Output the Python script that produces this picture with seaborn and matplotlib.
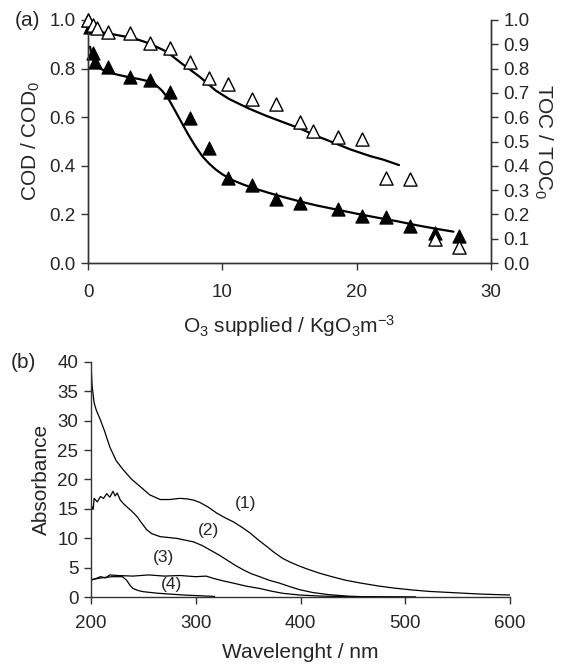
import numpy as np
import pandas as pd
import matplotlib
matplotlib.use("Agg")
import matplotlib.pyplot as plt
import seaborn as sns

# panel (a): ozone supplied vs normalised COD / TOC
cod_x = [0.0, 0.15, 0.35, 0.52, 1.5, 3.1, 4.6, 6.1, 7.6, 9.0, 10.4, 12.2,
         14.0, 15.8, 18.6, 20.4, 22.2, 24.0, 25.8, 27.6]
cod_y = [1.0, 0.97, 0.863, 0.828, 0.808, 0.764, 0.753, 0.705, 0.595, 0.472,
         0.351, 0.321, 0.263, 0.245, 0.222, 0.193, 0.19, 0.152, 0.122, 0.111]

toc_x = [0.0, 0.4, 0.65, 1.5, 3.1, 4.6, 6.1, 7.6, 9.0, 10.4, 12.2, 14.0,
         15.8, 16.75, 18.6, 20.4, 22.2, 24.0, 25.8, 27.6]
toc_y = [1.0, 0.98, 0.966, 0.952, 0.945, 0.906, 0.886, 0.826, 0.76, 0.735,
         0.674, 0.653, 0.58, 0.543, 0.517, 0.509, 0.349, 0.345, 0.098, 0.065]

# model curves
cod_fit_x = [0.15, 0.3, 0.5, 0.9, 1.5, 2.2, 3.0, 3.8, 4.5, 5.0, 5.5, 6.0, 6.5,
             7.0, 7.5, 8.0, 8.5, 9.0, 9.5, 10.0, 10.8, 11.6, 12.5, 13.5, 14.5,
             15.8, 17.0, 18.5, 20.0, 21.5, 23.0, 24.5, 26.0, 27.2]
cod_fit_y = [0.89, 0.85, 0.82, 0.80, 0.785, 0.775, 0.765, 0.757, 0.748, 0.735,
             0.71, 0.675, 0.625, 0.575, 0.525, 0.48, 0.44, 0.41, 0.385, 0.365,
             0.34, 0.322, 0.305, 0.288, 0.272, 0.253, 0.237, 0.22, 0.203,
             0.187, 0.172, 0.155, 0.14, 0.129]

toc_fit_x = [0.0, 1.5, 3.4, 4.5, 5.85, 7.0, 8.3, 9.5, 10.5, 12.0, 13.3, 14.5,
             15.8, 17.0, 18.3, 19.5, 21.0, 22.0, 23.15]
toc_fit_y = [0.959, 0.945, 0.925, 0.905, 0.87, 0.82, 0.767, 0.71, 0.675,
             0.635, 0.605, 0.58, 0.553, 0.523, 0.495, 0.468, 0.44, 0.425,
             0.403]

# panel (b): UV-vis spectra
wl_1 = [200, 201, 203, 205, 209, 213, 218, 224, 231, 239, 247, 256, 266, 275,
        285, 292, 298, 304, 312, 320, 328, 336, 344, 352, 360, 368, 375, 383,
        391, 399, 408, 418, 430, 443, 458, 475, 490, 507, 523, 539, 555, 571,
        585, 600]
abs_1 = [39.7, 36.0, 33.0, 31.8, 30.1, 28.2, 25.5, 23.2, 21.6, 20.0, 18.8,
         17.4, 16.6, 16.6, 16.8, 16.7, 16.5, 16.1, 15.3, 14.3, 13.5, 12.8,
         11.9, 10.9, 9.7, 8.6, 7.6, 6.6, 5.9, 5.3, 4.7, 4.1, 3.5, 2.9, 2.4,
         1.9, 1.55, 1.24, 1.0, 0.85, 0.7, 0.56, 0.47, 0.39]

wl_2 = [200, 202, 203, 206, 209, 212, 215, 218, 221, 223, 225, 228, 231, 234,
        239, 244, 248, 253, 258, 266, 274, 282, 290, 298, 306, 314, 322, 330,
        338, 345, 353, 361, 370, 380, 390, 399, 412, 427, 445, 460, 510]
abs_2 = [15.7, 14.9, 16.8, 16.2, 17.1, 16.8, 17.6, 17.0, 18.0, 17.2, 17.7,
         16.5, 15.9, 15.4, 14.6, 13.7, 12.7, 11.5, 10.8, 10.3, 10.15, 10.0,
         9.7, 9.4, 8.8, 8.0, 7.2, 6.3, 5.4, 4.7, 4.0, 3.5, 2.9, 2.4, 1.8, 1.3,
         0.8, 0.45, 0.2, 0.1, 0.02]

wl_3 = [200, 205, 209, 214, 218, 225, 240, 255, 270, 285, 300, 310, 317, 326,
        336, 348, 361, 372, 383, 399, 420, 450, 510]
abs_3 = [2.9, 3.2, 3.5, 3.3, 3.8, 3.7, 3.6, 3.8, 3.6, 3.7, 3.5, 3.6, 3.2,
         2.8, 2.4, 1.9, 1.5, 1.05, 0.68, 0.39, 0.2, 0.1, 0.05]

wl_4 = [200, 210, 220, 230, 234, 237, 240, 245, 250, 263, 288, 318]
abs_4 = [3.0, 3.3, 3.5, 3.5, 2.9, 2.1, 1.5, 1.15, 0.95, 0.7, 0.39, 0.15]

curve_labels = ["(1)", "(2)", "(3)", "(4)"]
label_x = [348, 312, 269, 277]
label_y = [16.0, 11.4, 6.8, 2.1]

sns.set_theme(style="ticks")
plt.rcParams["font.family"] = ["Liberation Sans", "DejaVu Sans"]
plt.rcParams["mathtext.fontset"] = "custom"
plt.rcParams["mathtext.rm"] = "Liberation Sans"
plt.rcParams["mathtext.it"] = "Liberation Sans"

TICK = 13.5
LAB = 15

fig = plt.figure(figsize=(5.63, 6.66), dpi=100)

# ---- (a) ----
ax1 = fig.add_axes([88 / 563, 1 - 263 / 666, 403 / 563, 243 / 666])
sns.lineplot(x=cod_fit_x, y=cod_fit_y, ax=ax1, color="black", lw=1.6)
sns.lineplot(x=toc_fit_x, y=toc_fit_y, ax=ax1, color="black", lw=1.6)
sns.scatterplot(x=cod_x, y=cod_y, ax=ax1, marker="^", s=90, color="black",
                edgecolor="black", linewidth=0.8, clip_on=False, zorder=4)
ax1.set_xlim(0, 30)
ax1.set_ylim(0, 1.0)
ax1.set_xticks([0, 10, 20, 30])
ax1.set_yticks(np.arange(0, 1.01, 0.2))
ax1.set_yticklabels([f"{v:.1f}" for v in np.arange(0, 1.01, 0.2)])
ax1.set_ylabel("COD / COD$_0$", fontsize=LAB, labelpad=5)
ax1.set_xlabel(r"O$_3$ supplied / KgO$_3$m$^{-3}$", fontsize=LAB, labelpad=9)
ax1.tick_params(labelsize=TICK, length=5, width=1, color="#333333", pad=10)
ax1.tick_params(axis="y", pad=4)
ax1.spines["top"].set_visible(False)

ax2 = ax1.twinx()
sns.scatterplot(x=toc_x, y=toc_y, ax=ax2, marker="^", s=90, color="white",
                edgecolor="black", linewidth=1.0, clip_on=False, zorder=4)
ax2.set_ylim(0, 1.0)
ax2.set_yticks(np.arange(0, 1.01, 0.1))
ax2.set_yticklabels([f"{v:.1f}" for v in np.arange(0, 1.01, 0.1)])
ax2.set_ylabel("TOC / TOC$_0$", fontsize=LAB, rotation=270, labelpad=18)
ax2.tick_params(labelsize=TICK, length=5, width=1, color="#333333", pad=4)
ax2.spines["top"].set_visible(False)
for ax in (ax1, ax2):
    for sp in ax.spines.values():
        sp.set_color("#333333")
        sp.set_linewidth(1.0)

fig.text(27 / 563, 1 - 21 / 666, "(a)", fontsize=LAB, ha="center", va="center")

# ---- (b) ----
ax3 = fig.add_axes([91 / 563, 1 - 597.3 / 666, 419 / 563, 235.6 / 666])
for wl, ab in [(wl_1, abs_1), (wl_2, abs_2), (wl_3, abs_3), (wl_4, abs_4)]:
    sns.lineplot(x=wl, y=ab, ax=ax3, color="black", lw=0.9)
for txt, lx, ly in zip(curve_labels, label_x, label_y):
    ax3.text(lx, ly, txt, fontsize=12.5, ha="center", va="center")
ax3.set_xlim(200, 600)
ax3.set_ylim(0, 40)
ax3.set_xticks([200, 300, 400, 500, 600])
ax3.set_yticks(range(0, 41, 5))
ax3.set_xlabel("Wavelenght / nm", fontsize=LAB, labelpad=8)
ax3.set_ylabel("Absorbance", fontsize=LAB, labelpad=5)
ax3.tick_params(labelsize=TICK, length=5, width=1, color="#333333", pad=8)
ax3.tick_params(axis="y", pad=4)
sns.despine(ax=ax3)
for sp in ax3.spines.values():
    sp.set_color("#333333")
    sp.set_linewidth(1.0)

fig.text(23 / 563, 1 - 363 / 666, "(b)", fontsize=LAB, ha="center", va="center")

fig.savefig("out.png", dpi=100)
